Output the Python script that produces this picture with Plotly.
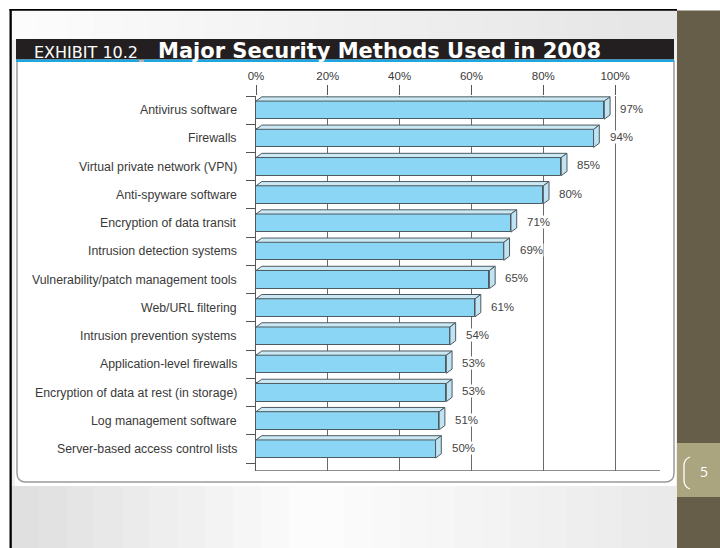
import plotly.graph_objects as go

# ---------------- data ----------------
categories = [
    "Antivirus software",
    "Firewalls",
    "Virtual private network (VPN)",
    "Anti-spyware software",
    "Encryption of data transit",
    "Intrusion detection systems",
    "Vulnerability/patch management tools",
    "Web/URL filtering",
    "Intrusion prevention systems",
    "Application-level firewalls",
    "Encryption of data at rest (in storage)",
    "Log management software",
    "Server-based access control lists",
]
values = [97, 94, 85, 80, 71, 69, 65, 61, 54, 53, 53, 51, 50]
tick_values = [0, 20, 40, 60, 80, 100]
tick_labels = ["0%", "20%", "40%", "60%", "80%", "100%"]
title_exhibit = "EXHIBIT 10.2"
title_main = "Major Security Methods Used in 2008"
page_number = "5"

# ---------------- geometry helpers ----------------
W, H = 720, 548


def px(x):
    return x / W


def py(y):
    return 1 - y / H


X_MAX = 112.5
Y_TOP, Y_BOT = -0.5, 12.78
BAR_W = 0.64
DX = 1.6   # depth offset in % units
DY = 0.15  # depth offset in category units

FRONT = "#8cd6f5"
TOP_FACE = "#cbe9f5"
SIDE_FACE = "#bfe3f2"
EDGE = "#4d5a60"

fig = go.Figure()

# front faces of bars
y_idx = list(range(len(categories)))
fig.add_trace(go.Bar(
    x=values, y=y_idx, orientation="h", width=BAR_W,
    marker=dict(color=FRONT, line=dict(color=EDGE, width=1)),
    hoverinfo="skip", showlegend=False,
))

# 3D top faces and side faces built from the values
top_x, top_y, side_x, side_y = [], [], [], []
for i, v in enumerate(values):
    t = i - BAR_W / 2
    b = i + BAR_W / 2
    top_x += [0, DX, v + DX, v, 0, None]
    top_y += [t, t - DY, t - DY, t, t, None]
    side_x += [v, v + DX, v + DX, v, v, None]
    side_y += [t, t - DY, b - DY, b, t, None]

fig.add_trace(go.Scatter(x=top_x, y=top_y, mode="lines", fill="toself",
                         fillcolor=TOP_FACE, line=dict(color=EDGE, width=1),
                         hoverinfo="skip", showlegend=False))
fig.add_trace(go.Scatter(x=side_x, y=side_y, mode="lines", fill="toself",
                         fillcolor=SIDE_FACE, line=dict(color=EDGE, width=1),
                         hoverinfo="skip", showlegend=False))

annotations = []
for i, (c, v) in enumerate(zip(categories, values)):
    annotations.append(dict(
        text=c, xref="paper", x=px(239), xanchor="right",
        yref="y", y=i, yanchor="middle", showarrow=False,
        font=dict(family="Liberation Sans, Arial", size=12.3, color="#3a3a3a"),
    ))
    annotations.append(dict(
        text=f"{v}%", xref="x", x=v, xanchor="left", xshift=15,
        yref="y", y=i - 0.04, yanchor="middle", showarrow=False,
        bgcolor="white", borderpad=0,
        font=dict(family="Liberation Sans, Arial", size=11.5, color="#444444"),
    ))

# header texts
annotations.append(dict(
    text=title_exhibit, xref="paper", x=px(32), xanchor="left",
    yref="paper", y=py(52.5), yanchor="middle", showarrow=False,
    font=dict(family="DejaVu Sans", size=16, color="white"),
))
annotations.append(dict(
    text=f"<b>{title_main}</b>", xref="paper", x=px(156), xanchor="left",
    yref="paper", y=py(51), yanchor="middle", showarrow=False,
    font=dict(family="DejaVu Sans", size=21, color="white"),
))
annotations.append(dict(
    text=page_number, xref="paper", x=px(704), xanchor="center",
    yref="paper", y=py(472), yanchor="middle", showarrow=False,
    font=dict(family="Open Sans", size=14, color="white"),
))

shapes = []


def rect(x0, y0, x1, y1, color, layer="below"):
    shapes.append(dict(type="rect", xref="paper", yref="paper",
                       x0=px(x0), x1=px(x1), y0=py(y1), y1=py(y0),
                       fillcolor=color, line=dict(width=0), layer=layer))


# slide background
rect(11, 10, 677, 548, "#f0f0f0")
# top band horizontal gradient
n = 24
for k in range(n):
    x0 = 11 + (677 - 11) * k / n
    x1 = 11 + (677 - 11) * (k + 1) / n + 0.5
    g = int(252 - 22 * k / (n - 1))
    rect(x0, 10, x1, 40, f"rgb({g},{g},{g})")
# bottom band gradient
for k in range(n):
    x0 = 11 + (677 - 11) * k / n
    x1 = 11 + (677 - 11) * (k + 1) / n + 0.5
    f = k / (n - 1)
    if f < 0.45:
        g = int(224 + (253 - 224) * f / 0.45)
    else:
        g = int(253 - (253 - 234) * (f - 0.45) / 0.55)
    rect(x0, 486, x1, 548, f"rgb({g},{g},{g})")

# panel (white with rounded bottom corners)
r = 9
panel_path = (f"M {px(17)},{py(61)} L {px(17)},{py(482 - r)} "
              f"Q {px(17)},{py(482)} {px(17 + r)},{py(482)} "
              f"L {px(674 - r)},{py(482)} Q {px(674)},{py(482)} {px(674)},{py(482 - r)} "
              f"L {px(674)},{py(61)} Z")
rect(15, 60, 676, 486, "white")
shapes.append(dict(type="path", xref="paper", yref="paper", path=panel_path,
                   fillcolor="white", line=dict(color="#9a9a9a", width=1.5),
                   layer="below"))

# header bar
rect(16, 39, 674, 59.5, "#231f20")
rect(16, 59.5, 139, 62, "#1ea6e0")
rect(144, 59.5, 674, 62, "#1ea6e0")

# black slide border lines
rect(9.5, 9, 677, 10.8, "black", layer="above")
rect(9.5, 9, 11.8, 548, "black", layer="above")

# right strip
rect(677, 10.5, 720, 548, "#665e48", layer="above")
rect(677, 443, 720, 497, "#aba57f", layer="above")
bracket = (f"M {px(690)},{py(457)} Q {px(684)},{py(459)} {px(684)},{py(466)} "
           f"L {px(684)},{py(480)} Q {px(684)},{py(487)} {px(690)},{py(489)}")
shapes.append(dict(type="path", xref="paper", yref="paper", path=bracket,
                   line=dict(color="white", width=1.3), layer="above"))

# bottom axis line
shapes.append(dict(type="line", xref="x", yref="y", x0=0, x1=X_MAX,
                   y0=Y_BOT, y1=Y_BOT, line=dict(color="#666666", width=1.3),
                   layer="below"))

fig.update_layout(
    width=W, height=H,
    margin=dict(l=0, r=0, t=0, b=0, autoexpand=False),
    paper_bgcolor="white", plot_bgcolor="rgba(0,0,0,0)",
    bargap=0,
    xaxis=dict(
        domain=[px(256), px(660)], range=[0, X_MAX], side="top",
        tickvals=tick_values, ticktext=tick_labels,
        ticks="outside", ticklen=10, tickcolor="#555555", tickwidth=1.2,
        showgrid=True, gridcolor="#6a6a6a", gridwidth=1.3,
        zeroline=False, showline=False, automargin=False,
        tickfont=dict(family="Liberation Sans, Arial", size=11.5, color="#3a3a3a"),
        fixedrange=True,
    ),
    yaxis=dict(
        domain=[py(471), py(96)], range=[Y_BOT, Y_TOP],
        tickvals=[i - 0.5 for i in range(len(categories) + 1)],
        ticks="outside", ticklen=9, tickcolor="#555555", tickwidth=1.2,
        showticklabels=False, showgrid=False, zeroline=False,
        showline=True, linecolor="#555555", linewidth=1.3, automargin=False,
        fixedrange=True,
    ),
    annotations=annotations,
    shapes=shapes,
)

fig.write_html("out.html")
